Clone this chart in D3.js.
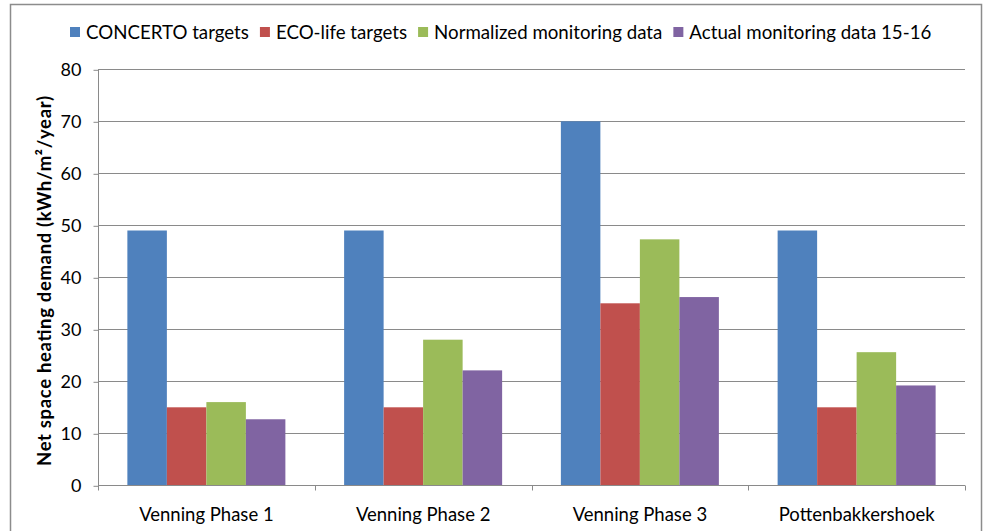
<!DOCTYPE html>
<html><head><meta charset="utf-8">
<script src="https://cdn.jsdelivr.net/npm/d3@7"></script>
<style>body{margin:0;background:#fff}svg{display:block}</style>
</head><body>
<script>
const categories = ["Venning Phase 1","Venning Phase 2","Venning Phase 3","Pottenbakkershoek"];
const seriesNames = ["CONCERTO targets","ECO-life targets","Normalized monitoring data","Actual monitoring data 15-16"];
const concerto = [49, 49, 70, 49];
const ecoLife = [15, 15, 35, 15];
const normalized = [16, 28, 47.3, 25.6];
const actual = [12.7, 22.1, 36.2, 19.2];
const yTicks = [0,10,20,30,40,50,60,70,80];
const colors = ["#4F81BD","#C0504D","#9BBB59","#8064A2"];
const seriesValues = [concerto, ecoLife, normalized, actual];

const W = 989, H = 531;
const font = "Lato, 'Open Sans', sans-serif";
const svg = d3.select("body").append("svg").attr("width", W).attr("height", H);

svg.append("rect").attr("x",10.5).attr("y",4.5).attr("width",971).attr("height",560)
  .attr("fill","#fff").attr("stroke","#8c8c8c").attr("stroke-width",1.5);

const m = {left:98, right:965, top:69.3, bottom:485.3};
const x0 = d3.scaleBand().domain(categories).range([m.left,m.right]).paddingInner(0.271).paddingOuter(0.1355);
const x1 = d3.scaleBand().domain(seriesNames).range([0,x0.bandwidth()]);
const y = d3.scaleLinear().domain([0,80]).range([m.bottom,m.top]);

// gridlines
svg.append("g").selectAll("line").data(yTicks.filter(d=>d>0)).join("line")
  .attr("x1",m.left).attr("x2",m.right)
  .attr("y1",d=>Math.round(y(d))+0.5).attr("y2",d=>Math.round(y(d))+0.5)
  .attr("stroke","#8a8a8a").attr("stroke-width",1);

// bars
const data = [];
categories.forEach((c,i)=>seriesNames.forEach((s,j)=>data.push({c,s,v:seriesValues[j][i],j})));
svg.append("g").selectAll("rect").data(data).join("rect")
  .attr("x",d=>x0(d.c)+x1(d.s)).attr("width",x1.bandwidth())
  .attr("y",d=>y(d.v)).attr("height",d=>y(0)-y(d.v))
  .attr("fill",d=>colors[d.j]);

// y axis
const yAxis = d3.axisLeft(y).tickValues(yTicks).tickSize(5).tickPadding(12);
const gy = svg.append("g").attr("transform",`translate(${m.left+0.5},0.5)`).call(yAxis);
gy.select(".domain").attr("stroke","#8a8a8a").attr("d",`M0,${m.top}V${m.bottom}`);
gy.selectAll(".tick line").attr("stroke","#8a8a8a");
gy.selectAll(".tick text").attr("font-family",font).attr("font-size",18).attr("fill","#000");

// x axis
const xAxis = d3.axisBottom(x0).tickSize(0).tickPadding(0).tickFormat(d=>d);
const gx = svg.append("g").attr("transform",`translate(0,${Math.round(m.bottom)+0.5})`).call(xAxis);
gx.select(".domain").attr("stroke","#8a8a8a").attr("d",`M${m.left},0H${m.right}`);
gx.selectAll(".tick text").attr("font-family",font).attr("font-size",18.5).attr("fill","#000").attr("dy","0").attr("y",35);
// category boundary ticks
const bounds = d3.range(categories.length+1).map(i=>m.left + i*(m.right-m.left)/categories.length);
gx.append("g").selectAll("line").data(bounds).join("line")
  .attr("x1",d=>Math.round(d)+0.5).attr("x2",d=>Math.round(d)+0.5).attr("y1",0).attr("y2",5).attr("stroke","#8a8a8a");

// y axis title
svg.append("text").attr("transform",`translate(51,281) rotate(-90)`)
  .attr("text-anchor","middle").attr("font-family",font).attr("font-weight","bold").attr("font-size",18.5)
  .attr("textLength",370).attr("lengthAdjust","spacing")
  .text("Net space heating demand (kWh/m²/year)");

// legend
const lg = svg.append("g").attr("transform","translate(70,32)");
let lx = 0;
seriesNames.forEach((s,i)=>{
  const g = lg.append("g").attr("transform",`translate(${lx},0)`);
  g.append("rect").attr("x",0).attr("y",-5).attr("width",10).attr("height",10).attr("fill",colors[i]);
  const t = g.append("text").attr("x",16).attr("y",6.5).attr("font-family",font).attr("font-size",18.7).text(s);
  lx += 16 + t.node().getComputedTextLength() + 11;
});
</script>
</body></html>
